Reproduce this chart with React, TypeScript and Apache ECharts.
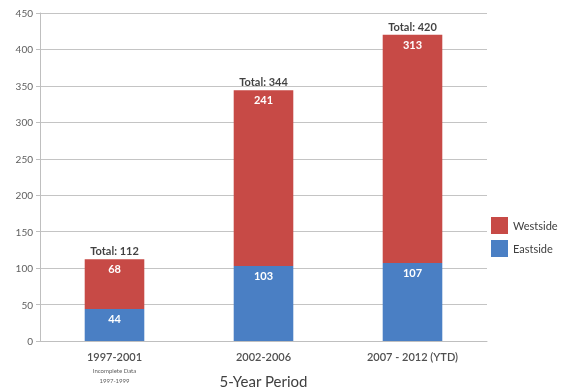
import React, { useEffect, useRef } from "react";
import * as echarts from "echarts";

const categories = ["1997-2001", "2002-2006", "2007 - 2012 (YTD)"];
const eastside = [44, 103, 107];
const westside = [68, 241, 313];
const yTicks = { min: 0, max: 450, interval: 50 };

export default function App() {
  const ref = useRef<HTMLDivElement>(null);
  useEffect(() => {
    const chart = echarts.init(ref.current!, null, { renderer: "svg" });
    const totals = eastside.map((v, i) => v + westside[i]);
    const font = "Lato, 'Open Sans', sans-serif";
    chart.setOption({
      animation: false,
      textStyle: { fontFamily: font },
      grid: { left: 40, right: 78, top: 13, bottom: 49, outerBoundsMode: "none", containLabel: false },
      legend: {
        orient: "vertical",
        left: 486,
        top: 212,
        itemWidth: 17,
        itemHeight: 17,
        itemGap: 6,
        icon: "rect",
        data: ["Westside", "Eastside"],
        textStyle: { fontSize: 11, color: "#404040", fontFamily: font },
      },
      xAxis: {
        type: "category",
        data: categories,
        axisLine: { lineStyle: { color: "#bfbfbf" } },
        axisTick: { show: false },
        axisLabel: {
          interval: 0,
          margin: 7,
          formatter: (v: string, i: number) =>
            i === 0 ? `{a|${v}}\n{b|Incomplete Data}\n{b|1997-1999}` : `{a|${v}}`,
          rich: {
            a: { fontSize: 11, color: "#505050", fontWeight: 600, fontFamily: font, lineHeight: 17 },
            b: { fontSize: 6, color: "#606060", fontFamily: font, lineHeight: 10 },
          },
        },
        name: "5-Year Period",
        nameLocation: "middle",
        nameGap: 32,
        nameMoveOverlap: false,
        nameTextStyle: { fontSize: 15, color: "#404040", fontFamily: font },
      },
      yAxis: {
        type: "value",
        min: yTicks.min,
        max: yTicks.max,
        interval: yTicks.interval,
        axisLine: { show: true, lineStyle: { color: "#bfbfbf" } },
        axisTick: { show: true, length: 4, lineStyle: { color: "#bfbfbf" } },
        axisLabel: { fontSize: 10, color: "#606060", margin: 7, fontFamily: font },
        splitLine: { lineStyle: { color: "#c4c4c4" } },
      },
      series: [
        {
          name: "Eastside",
          type: "bar",
          stack: "total",
          barWidth: "40%",
          data: eastside,
          itemStyle: { color: "#4a7fc4" },
          label: {
            show: true,
            position: "insideTop",
            distance: 4,
            color: "#ffffff",
            fontWeight: "bold",
            fontSize: 11,
            fontFamily: font,
          },
        },
        {
          name: "Westside",
          type: "bar",
          stack: "total",
          data: westside,
          itemStyle: { color: "#c74a46" },
          label: {
            show: true,
            position: "insideTop",
            distance: 4,
            color: "#ffffff",
            fontWeight: "bold",
            fontSize: 11,
            fontFamily: font,
          },
        },
        {
          name: "Total",
          type: "scatter",
          data: totals,
          symbolSize: 0,
          silent: true,
          label: {
            show: true,
            position: "top",
            distance: 3,
            formatter: (p: any) => `Total: ${p.value}`,
            color: "#111111",
            fontWeight: "bold",
            fontSize: 11,
            fontFamily: font,
          },
        },
      ],
    });
    return () => chart.dispose();
  }, []);
  return (
    <div
      ref={ref}
      style={{ position: "fixed", left: 0, top: 0, width: 565, height: 390 }}
    />
  );
}
